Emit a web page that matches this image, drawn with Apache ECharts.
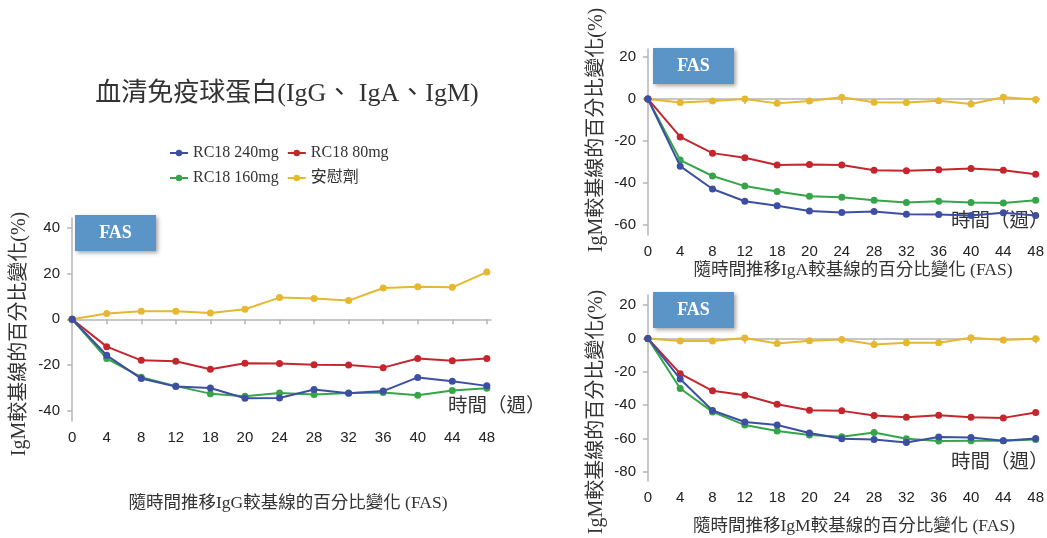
<!DOCTYPE html>
<html>
<head>
<meta charset="utf-8">
<script src="https://cdn.jsdelivr.net/npm/echarts@6/dist/echarts.min.js"></script>
<style>html,body{margin:0;padding:0;background:#fff;}#c{width:1047px;height:538px;}</style>
</head>
<body>
<div id="c"></div>
<script>
var weeks = ['0','4','8','12','18','20','24','28','32','36','40','44','48'];
var seriesNames = ['RC18 240mg','RC18 80mg','RC18 160mg','安慰劑'];

// IgG
var igg240 = [0,-15.8,-26.0,-29.5,-30.1,-34.6,-34.5,-30.8,-32.4,-31.5,-25.5,-27.2,-29.2];
var igg80  = [0,-12.0,-18.0,-18.4,-21.9,-19.3,-19.4,-19.9,-20.1,-21.2,-17.2,-18.2,-17.2];
var igg160 = [0,-17.2,-25.4,-29.3,-32.6,-33.7,-32.3,-33.0,-32.3,-32.1,-33.3,-31.2,-30.2];
var iggPbo = [0,2.5,3.5,3.5,2.8,4.4,9.5,9.1,8.2,13.7,14.3,14.0,20.7];

// IgA
var iga240 = [0,-32.0,-42.9,-48.7,-50.9,-53.4,-54.1,-53.6,-54.9,-55.0,-55.5,-54.2,-55.5];
var iga80  = [0,-18.1,-25.8,-28.0,-31.5,-31.2,-31.5,-34.0,-34.2,-33.7,-33.1,-34.0,-35.9];
var iga160 = [0,-29.1,-36.7,-41.5,-44.1,-46.3,-46.8,-48.2,-49.3,-48.7,-49.3,-49.5,-48.3];
var igaPbo = [0,-1.7,-1.0,0,-2.1,-1.0,0.8,-1.6,-1.7,-0.8,-2.4,0.8,-0.2];

// IgM
var igm240 = [0,-24.3,-43.2,-50.1,-51.9,-56.7,-60.1,-60.5,-62.3,-59.1,-59.3,-61.3,-59.9];
var igm80  = [0,-21.1,-31.4,-34.0,-39.4,-43.0,-43.4,-46.2,-47.2,-46.0,-47.2,-47.6,-44.4];
var igm160 = [0,-30.0,-44.0,-51.9,-55.5,-57.9,-58.9,-56.3,-60.1,-61.5,-61.3,-61.3,-60.5];
var igmPbo = [0,-1.6,-1.6,0.2,-3.0,-1.4,-0.6,-3.6,-2.6,-2.6,0.4,-1.0,-0.2];

var yTicks1 = [-40,-20,0,20,40];
var yTicks2 = [-60,-40,-20,0,20];
var yTicks3 = [-80,-60,-40,-20,0,20];

var colors = ['#3c4fa3','#c4262e','#36a54a','#e6b730'];

var chart = echarts.init(document.getElementById('c'));
var idx = weeks.map(function(_, i){ return i; });
var sansFont = '"Liberation Sans", Arial, sans-serif';
var serifFont = '"Liberation Serif", "Times New Roman", "Noto Sans CJK TC", serif';

function xAx(gi){
  return {
    type:'value', gridIndex:gi, min:-0.12, max:12.12,
    axisLine:{show:true, lineStyle:{color:'#b5b5b5', width:1.5}},
    axisTick:{show:true, customValues: idx, length:5, lineStyle:{color:'#b5b5b5', width:1.5}},
    axisLabel:{customValues: idx, formatter:function(v){ return weeks[Math.round(v)]; }, color:'#222', fontFamily:sansFont, fontSize:15, margin:9},
    splitLine:{show:false}
  };
}
function yAx(gi, mn, mx, ticks){
  return {
    type:'value', gridIndex:gi, min:mn, max:mx,
    axisLine:{show:true, lineStyle:{color:'#b5b5b5', width:1.5}},
    axisTick:{show:true, customValues: ticks, length:5, lineStyle:{color:'#b5b5b5', width:1.5}},
    axisLabel:{customValues: ticks, color:'#222', fontFamily:sansFont, fontSize:15, margin:8},
    splitLine:{show:false}
  };
}
function pairs(arr){ return arr.map(function(v,i){ return [i, v]; }); }
var series = [];
var groups = [[igg240,igg80,igg160,iggPbo],[iga240,iga80,iga160,igaPbo],[igm240,igm80,igm160,igmPbo]];
groups.forEach(function(g, gi){
  g.forEach(function(arr, si){
    series.push({
      name: seriesNames[si], type:'line', xAxisIndex:gi, yAxisIndex:gi,
      data: pairs(arr), symbol:'circle', symbolSize:7, showSymbol:true,
      itemStyle:{color: colors[si]},
      lineStyle:{width:2, color: colors[si]},
      z: 10 - si,
      animation:false
    });
  });
});

function fasBox(x, y){
  return {
    type:'group', left:x, top:y,
    children:[
      {type:'rect', shape:{x:0,y:0,width:81,height:36}, style:{fill:'#5b95c8', shadowBlur:4, shadowOffsetX:2, shadowOffsetY:2, shadowColor:'rgba(0,0,0,0.35)'}},
      {type:'text', x:40.5, y:18, style:{text:'FAS', fill:'#fff', font:'bold 18px ' + serifFont, textAlign:'center', textVerticalAlign:'middle'}}
    ]
  };
}
function txt(x, y, s, size, align, rot){
  return {type:'text', x:x, y:y, rotation: rot||0, style:{text:s, fill:'#333', font: size+'px ' + serifFont, textAlign: align||'center', textVerticalAlign:'middle'}};
}

var legendCommon = {
  itemWidth:18, itemHeight:8, itemGap:8,
  textStyle:{fontFamily:serifFont, fontSize:16, color:'#333'}
};

chart.setOption({
  animation:false,
  color: colors,
  grid:[
    {left:68, top:218, width:423, height:203},
    {left:644, top:49, width:396, height:186},
    {left:644, top:295, width:396, height:186}
  ],
  xAxis:[xAx(0), xAx(1), xAx(2)],
  yAxis:[yAx(0,-44.6,44.4,yTicks1), yAx(1,-64.8,23.8,yTicks2), yAx(2,-85.4,26,yTicks3)],
  legend:[
    Object.assign({left:164, top:140, data:[{name:'RC18 240mg'},{name:'RC18 80mg'}]}, legendCommon),
    Object.assign({left:164, top:165, data:[{name:'RC18 160mg'},{name:'安慰劑'}]}, legendCommon)
  ],
  series: series,
  graphic:[
    txt(287, 94, '血清免疫球蛋白(IgG、 IgA、IgM)', 26),
    fasBox(75, 215),
    fasBox(653, 48),
    fasBox(653, 292),
    txt(448, 407, '時間（週）', 19.5, 'left'),
    txt(951, 222, '時間（週）', 19.5, 'left'),
    txt(951, 463, '時間（週）', 19.5, 'left'),
    txt(288, 503, '隨時間推移IgG較基線的百分比變化 (FAS)', 17.5),
    txt(853, 270, '隨時間推移IgA較基線的百分比變化 (FAS)', 17.5),
    txt(854, 526, '隨時間推移IgM較基線的百分比變化 (FAS)', 17.5),
    txt(20, 334, 'IgM較基線的百分比變化(%)', 20, 'center', Math.PI/2),
    txt(597, 130, 'IgM較基線的百分比變化(%)', 20, 'center', Math.PI/2),
    txt(597, 412, 'IgM較基線的百分比變化(%)', 20, 'center', Math.PI/2)
  ]
});
</script>
</body>
</html>
